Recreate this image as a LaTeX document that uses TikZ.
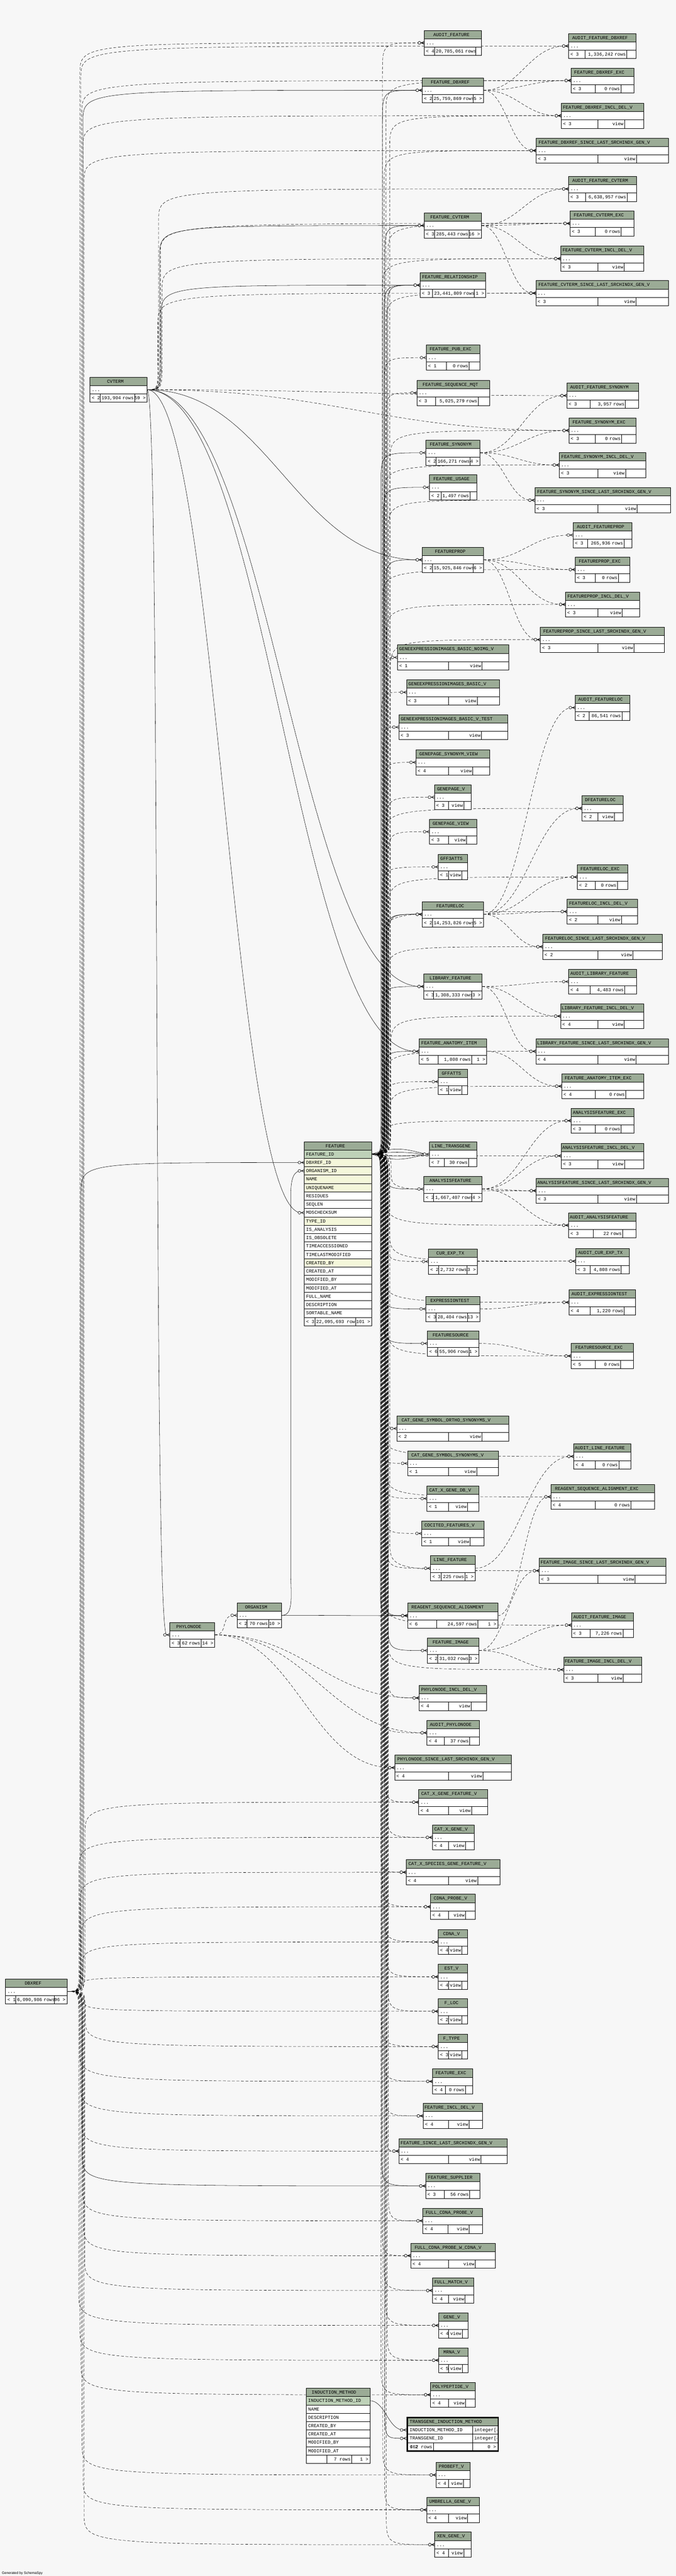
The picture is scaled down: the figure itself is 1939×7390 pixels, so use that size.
\documentclass[tikz,border=0pt]{standalone}
\usepackage{fontspec}
\usetikzlibrary{calc}
\newfontfamily\tabfont{Liberation Mono}
\newfontfamily\genfont{Liberation Sans}
\newcommand\tf{\tabfont\fontsize{13.3}{14}\selectfont}
\newcommand\dtk[1]{\expandafter\detokenize\expandafter{#1}}

\definecolor{bgc}{HTML}{F7F7F7}
\definecolor{hdrc}{HTML}{9BAB96}
\definecolor{keyc}{HTML}{BED1B8}
\definecolor{idxc}{HTML}{F4F7DA}

\pgfdeclarelayer{back}
\pgfdeclarelayer{edges}
\pgfdeclarelayer{marks}
\pgfsetlayers{back,edges,marks,main}

\tikzset{
  txt/.style={anchor=base west,inner sep=0pt,font=\tf},
  tline/.style={line width=1pt},
  conn/.style={line width=0.8pt},
  dsh/.style={dash pattern=on 8pt off 5pt},
  crowfoot/.pic={
    \draw[line width=0.9pt] (-9,0) -- (0,-4) (-9,0) -- (0,0) (-9,0) -- (0,4);
    \draw[line width=0.9pt,fill=bgc] (-14,0) circle (4pt);
  }
}

% collapsed table: title, x1, y1, x2, divider 1, divider 2, footer cells
\newcommand\dbtab[9]{%
  \coordinate (#1-in) at (#2,#3+36);
  \coordinate (#1-out) at (#4,#3+36);
  \fill[hdrc] (#2,#3) rectangle (#4,#3+24);
  \fill[white] (#2,#3+24) rectangle (#4,#3+72);
  \draw[tline] (#2,#3) rectangle (#4,#3+72) (#2,#3+24) -- (#4,#3+24)
    (#2,#3+48) -- (#4,#3+48) (#5,#3+48) -- (#5,#3+72) (#6,#3+48) -- (#6,#3+72);
  \pgfmathsetmacro\hx{(#2+(#6+#4)/2)/2}%
  \pgfmathsetmacro\hw{2*(\hx-#2-3)}%
  \node[txt,anchor=base,text width=\hw pt,align=center] at (\hx,#3+16.5)
    {\mbox{\detokenize{#1}}};
  \node[txt] at (#2+5,#3+40.5) {...};
  \node[txt] at (#2+5,#3+64.5) {#7};
  \pgfmathsetmacro\mw{#6-#5-7}%
  \begin{scope}
    \clip (#5,#3+48) rectangle (#6,#3+72);
    \node[txt,text width=\mw pt,align=right] at (#5+4,#3+64.5) {\mbox{#8}};
  \end{scope}
  \node[txt,anchor=base east] at (#4-4,#3+64.5) {#9};
}
% view: title, x1, y1, x2, count
\newcommand\dbview[5]{%
  \pgfmathsetmacro\vda{(#2+#4)/2-13}%
  \pgfmathsetmacro\vdb{\vda+0.24*(#4-#2)+19}%
  \dbtab{#1}{#2}{#3}{#4}{\vda}{\vdb}{< #5}{view}{}%
}

\newcommand\fkmark[1]{%
  \begin{pgfonlayer}{marks}\pic at (#1) {crowfoot};\end{pgfonlayer}}
% direct connector
\newcommand\fk[3][]{%
  \begin{pgfonlayer}{edges}
  \draw[conn,#1] let \p1=(#2), \p2=($(#3)+(-9,0)$),
    \n1={max(40,abs(\x2-\x1)*0.45)} in
    (\p1) .. controls ({\x1+\n1},{\y1}) and ({\x2-\n1},{\y2}) .. (\p2);
  \end{pgfonlayer}\fkmark{#3}}
% connector along a vertical bundle at x=#4
\newcommand\fkb[4][]{%
  \begin{pgfonlayer}{edges}
  \draw[conn,#1] let \p1=(#2), \p2=($(#3)+(-9,0)$),
    \n1={(\y2>\y1) ? 1 : -1}, \n2={min(abs(\y2-\y1)/2,90)} in
    (\p1) .. controls ({#4pt},{\y1}) .. ({#4pt},{\y1+\n1*\n2})
    -- ({#4pt},{\y2-\n1*\n2}) .. controls ({#4pt},{\y2}) .. (\p2);
  \end{pgfonlayer}\fkmark{#3}}

\begin{document}
\begin{tikzpicture}[x=1pt,y=-1pt]
\useasboundingbox (0,0) rectangle (1939,7390);
\begin{pgfonlayer}{back}
\fill[bgc] (0,0) rectangle (1939,7390);
\end{pgfonlayer}

% left tables
\dbtab{CVTERM}{258}{1082}{422}{287}{386}{< 2}{193,904 rows}{59 >}
\dbtab{ORGANISM}{680}{4598}{808}{709}{771}{< 2}{70 rows}{10 >}
\dbtab{PHYLONODE}{487}{4654}{616}{517}{577}{< 3}{62 rows}{14 >}
\dbtab{DBXREF}{16}{5677}{192}{45}{156}{< 1}{6,090,986 rows}{96 >}

% feature
\coordinate (FEATURE-out) at (1066,3311);
\coordinate (FEATURE-dbx) at (873,3335);
\coordinate (FEATURE-org) at (873,3359);
\coordinate (FEATURE-type) at (873,3479);
\fill[hdrc] (873,3275) rectangle (1066,3299);
\node[txt,anchor=base] at (962,3291.5) {FEATURE};
\foreach \cname/\cfill [count=\i from 0] in {FEATURE_ID/keyc,DBXREF_ID/idxc,
  ORGANISM_ID/idxc,NAME/idxc,UNIQUENAME/idxc,RESIDUES/white,SEQLEN/white,
  MD5CHECKSUM/white,TYPE_ID/idxc,IS_ANALYSIS/white,IS_OBSOLETE/white,
  TIMEACCESSIONED/white,TIMELASTMODIFIED/white,CREATED_BY/idxc,CREATED_AT/white,
  MODIFIED_BY/white,MODIFIED_AT/white,FULL_NAME/white,DESCRIPTION/white,
  SORTABLE_NAME/white}{
  \filldraw[fill=\cfill,tline] (873,3299+24*\i) rectangle (1066,3323+24*\i);
  \node[txt] at (878,3315.5+24*\i) {\dtk\cname};
}
\filldraw[fill=white,tline] (873,3779) rectangle (1066,3803);
\draw[tline] (903,3779) -- (903,3803) (1021,3779) -- (1021,3803);
\node[txt] at (878,3795.5) {< 3};
\begin{scope}
  \clip (903,3779) rectangle (1021,3803);
  \node[txt] at (907,3795.5) {22,095,693 rows};
\end{scope}
\node[txt,anchor=base east] at (1062,3795.5) {101 >};
\draw[tline] (873,3275) rectangle (1066,3803);

% induction method
\coordinate (INDUCTION_METHOD-out) at (1061,6887);
\fill[hdrc] (879,6851) rectangle (1061,6875);
\node[txt,anchor=base] at (958,6867.5) {INDUCTION\_METHOD};
\foreach \cname/\cfill [count=\i from 0] in {INDUCTION_METHOD_ID/keyc,NAME/white,
  DESCRIPTION/white,CREATED_BY/white,CREATED_AT/white,MODIFIED_BY/white,
  MODIFIED_AT/white}{
  \filldraw[fill=\cfill,tline] (879,6875+24*\i) rectangle (1061,6899+24*\i);
  \node[txt] at (884,6891.5+24*\i) {\dtk\cname};
}
\filldraw[fill=white,tline] (879,7043) rectangle (1061,7067);
\draw[tline] (937,7043) -- (937,7067) (1009,7043) -- (1009,7067);
\node[txt,anchor=base east] at (1006,7059.5) {7 rows};
\node[txt,anchor=base east] at (1057,7059.5) {1 >};
\draw[tline] (879,6851) rectangle (1061,7067);

% transgene induction method
\coordinate (TRANSGENE_INDUCTION_METHOD-in1) at (1166,6971);
\coordinate (TRANSGENE_INDUCTION_METHOD-in2) at (1166,6995);
\fill[hdrc] (1168,6935) rectangle (1429,6959);
\fill[white] (1168,6959) rectangle (1429,7031);
\draw[tline] (1168,6959) -- (1429,6959) (1168,6983) -- (1429,6983)
  (1168,7007) -- (1429,7007) (1356,6959) -- (1356,7031) (1243,7007) -- (1243,7031);
\node[txt] at (1175,6951.5) {TRANSGENE\_INDUCTION\_METHOD};
\node[txt] at (1175,6975.5) {INDUCTION\_METHOD\_ID};
\node[txt] at (1175,6999.5) {TRANSGENE\_ID};
\begin{scope}
  \clip (1356,6959) rectangle (1426,7007);
  \node[txt] at (1360,6975.5) {integer[4]};
  \node[txt] at (1360,6999.5) {integer[4]};
\end{scope}
\node[txt] at (1175,7023.5) {< 2};
\node[txt,anchor=base east] at (1240,7023.5) {362 rows};
\node[txt,anchor=base east] at (1423,7023.5) {0 >};
\draw[line width=4pt] (1168,6935) rectangle (1429,7031);

% middle column
\dbtab{AUDIT_FEATURE}{1217}{87}{1381}{1246}{1365}{< 4}{20,785,061 rows}{}
\dbtab{FEATURE_DBXREF}{1211}{223}{1387}{1240}{1357}{< 2}{25,759,869 rows}{5 >}
\dbtab{FEATURE_CVTERM}{1217}{611}{1381}{1247}{1345}{< 3}{285,443 rows}{16 >}
\dbtab{FEATURE_RELATIONSHIP}{1205}{782}{1393}{1241}{1360}{< 3}{23,441,809 rows}{1 >}
\dbtab{FEATURE_PUB_EXC}{1223}{990}{1377}{1280}{1346}{< 1}{0 rows}{}
\dbtab{FEATURE_SEQUENCE_MQT}{1196}{1091}{1404}{1249}{1372}{< 3}{5,025,279 rows}{}
\dbtab{FEATURE_SYNONYM}{1222}{1263}{1377}{1251}{1349}{< 2}{166,271 rows}{4 >}
\dbtab{FEATURE_USAGE}{1232}{1362}{1368}{1265}{1348}{< 2}{1,497 rows}{}
\dbtab{FEATUREPROP}{1211}{1570}{1387}{1240}{1357}{< 2}{15,925,846 rows}{6 >}
\dbview{GENEEXPRESSIONIMAGES_BASIC_NOIMG_V}{1140}{1850}{1460}{1}
\dbview{GENEEXPRESSIONIMAGES_BASIC_V}{1166}{1950}{1432}{3}
\dbview{GENEEXPRESSIONIMAGES_BASIC_V_TEST}{1144}{2050}{1456}{3}
\dbview{GENEPAGE_SYNONYM_VIEW}{1193}{2151}{1405}{4}
\dbview{GENEPAGE_V}{1246}{2251}{1352}{3}
\dbview{GENEPAGE_VIEW}{1232}{2350}{1368}{3}
\dbview{GFF3ATTS}{1257}{2451}{1341}{1}
\dbtab{FEATURELOC}{1211}{2587}{1387}{1240}{1357}{< 2}{14,253,826 rows}{5 >}
\dbtab{LIBRARY_FEATURE}{1216}{2794}{1383}{1244}{1353}{< 3}{1,308,333 rows}{3 >}
\dbtab{FEATURE_ANATOMY_ITEM}{1202}{2980}{1396}{1257}{1353}{< 5}{1,808 rows}{1 >}
\dbview{GFFATTS}{1257}{3067}{1341}{1}
\dbtab{LINE_TRANSGENE}{1232}{3275}{1368}{1275}{1344}{< 7}{30 rows}{}
\dbtab{ANALYSISFEATURE}{1216}{3375}{1383}{1244}{1353}{< 2}{1,667,407 rows}{4 >}
\dbtab{CUR_EXP_TX}{1229}{3583}{1369}{1259}{1340}{< 2}{2,732 rows}{3 >}
\dbtab{EXPRESSIONTEST}{1222}{3719}{1377}{1251}{1341}{< 3}{28,404 rows}{13 >}
\dbtab{FEATURESOURCE}{1226}{3818}{1374}{1256}{1345}{< 6}{55,906 rows}{1 >}
\dbview{CAT_GENE_SYMBOL_ORTHO_SYNONYMS_V}{1138}{4062}{1460}{2}
\dbview{CAT_GENE_SYMBOL_SYNONYMS_V}{1169}{4162}{1429}{1}
\dbview{CAT_X_GENE_DB_V}{1225}{4263}{1374}{1}
\dbview{COCITED_FEATURES_V}{1210}{4363}{1389}{1}
\dbtab{LINE_FEATURE}{1235}{4463}{1363}{1265}{1334}{< 3}{225 rows}{1 >}
\dbtab{REAGENT_SEQUENCE_ALIGNMENT}{1169}{4599}{1428}{1253}{1371}{< 6}{24,597 rows}{1 >}
\dbtab{FEATURE_IMAGE}{1226}{4699}{1374}{1256}{1345}{< 2}{31,032 rows}{3 >}
\dbview{PHYLONODE_INCL_DEL_V}{1202}{4835}{1396}{4}
\dbtab{AUDIT_PHYLONODE}{1225}{4935}{1375}{1275}{1347}{< 4}{37 rows}{}
\dbview{PHYLONODE_SINCE_LAST_SRCHINDX_GEN_V}{1132}{5035}{1467}{4}
\dbview{CAT_X_GENE_FEATURE_V}{1201}{5134}{1398}{4}
\dbview{CAT_X_GENE_V}{1240}{5235}{1360}{4}
\dbview{CAT_X_SPECIES_GENE_FEATURE_V}{1165}{5335}{1434}{4}
\dbview{CDNA_PROBE_V}{1235}{5434}{1363}{4}
\dbview{CDNA_V}{1257}{5535}{1341}{4}
\dbview{EST_V}{1257}{5635}{1341}{4}
\dbview{F_LOC}{1257}{5734}{1341}{2}
\dbview{F_TYPE}{1257}{5835}{1341}{3}
\dbtab{FEATURE_EXC}{1241}{5935}{1356}{1277}{1335}{< 4}{0 rows}{}
\dbview{FEATURE_INCL_DEL_V}{1214}{6034}{1384}{4}
\dbview{FEATURE_SINCE_LAST_SRCHINDX_GEN_V}{1144}{6135}{1455}{4}
\dbtab{FEATURE_SUPPLIER}{1221}{6235}{1377}{1274}{1347}{< 3}{56 rows}{}
\dbview{FULL_CDNA_PROBE_V}{1213}{6335}{1384}{4}
\dbview{FULL_CDNA_PROBE_W_CDNA_V}{1178}{6435}{1421}{4}
\dbview{FULL_MATCH_V}{1241}{6535}{1359}{4}
\dbview{GENE_V}{1258}{6635}{1342}{4}
\dbview{MRNA_V}{1258}{6735}{1342}{5}
\dbview{POLYPEPTIDE_V}{1235}{6834}{1363}{4}
\dbview{PROBEFT_V}{1251}{7064}{1348}{4}
\dbview{UMBRELLA_GENE_V}{1224}{7164}{1375}{4}
\dbview{XEN_GENE_V}{1247}{7264}{1351}{4}

% right column
\dbtab{AUDIT_FEATURE_DBXREF}{1631}{96}{1825}{1678}{1798}{< 3}{1,336,242 rows}{}
\dbtab{FEATURE_DBXREF_EXC}{1638}{195}{1819}{1707}{1781}{< 3}{0 rows}{}
\dbview{FEATURE_DBXREF_INCL_DEL_V}{1610}{296}{1847}{3}
\dbview{FEATURE_DBXREF_SINCE_LAST_SRCHINDX_GEN_V}{1538}{396}{1918}{3}
\dbtab{AUDIT_FEATURE_CVTERM}{1631}{506}{1826}{1680}{1799}{< 3}{6,638,957 rows}{}
\dbtab{FEATURE_CVTERM_EXC}{1635}{605}{1819}{1707}{1782}{< 3}{0 rows}{}
\dbview{FEATURE_CVTERM_INCL_DEL_V}{1608}{706}{1847}{3}
\dbview{FEATURE_CVTERM_SINCE_LAST_SRCHINDX_GEN_V}{1537}{805}{1918}{3}
\dbtab{AUDIT_FEATURE_SYNONYM}{1626}{1099}{1831}{1693}{1794}{< 3}{3,957 rows}{}
\dbtab{FEATURE_SYNONYM_EXC}{1632}{1199}{1825}{1708}{1783}{< 3}{0 rows}{}
\dbview{FEATURE_SYNONYM_INCL_DEL_V}{1604}{1298}{1853}{3}
\dbview{FEATURE_SYNONYM_SINCE_LAST_SRCHINDX_GEN_V}{1534}{1399}{1923}{3}
\dbtab{AUDIT_FEATUREPROP}{1644}{1499}{1813}{1686}{1790}{< 3}{265,936 rows}{}
\dbtab{FEATUREPROP_EXC}{1650}{1598}{1807}{1707}{1774}{< 3}{0 rows}{}
\dbview{FEATUREPROP_INCL_DEL_V}{1622}{1698}{1834}{3}
\dbview{FEATUREPROP_SINCE_LAST_SRCHINDX_GEN_V}{1550}{1799}{1905}{3}
\dbtab{AUDIT_FEATURELOC}{1650}{1994}{1807}{1690}{1784}{< 2}{86,541 rows}{}
\dbview{DFEATURELOC}{1669}{2283}{1787}{2}
\dbtab{FEATURELOC_EXC}{1656}{2480}{1801}{1708}{1771}{< 2}{0 rows}{}
\dbview{FEATURELOC_INCL_DEL_V}{1627}{2579}{1829}{2}
\dbview{FEATURELOC_SINCE_LAST_SRCHINDX_GEN_V}{1557}{2680}{1899}{2}
\dbtab{AUDIT_LIBRARY_FEATURE}{1631}{2780}{1826}{1693}{1792}{< 4}{4,483 rows}{}
\dbview{LIBRARY_FEATURE_INCL_DEL_V}{1608}{2879}{1847}{4}
\dbview{LIBRARY_FEATURE_SINCE_LAST_SRCHINDX_GEN_V}{1537}{2980}{1918}{4}
\dbtab{FEATURE_ANATOMY_ITEM_EXC}{1611}{3080}{1846}{1708}{1795}{< 4}{0 rows}{}
\dbtab{ANALYSISFEATURE_EXC}{1638}{3179}{1819}{1708}{1782}{< 3}{0 rows}{}
\dbview{ANALYSISFEATURE_INCL_DEL_V}{1610}{3280}{1847}{3}
\dbview{ANALYSISFEATURE_SINCE_LAST_SRCHINDX_GEN_V}{1538}{3380}{1918}{3}
\dbtab{AUDIT_ANALYSISFEATURE}{1631}{3479}{1825}{1702}{1786}{< 3}{22 rows}{}
\dbtab{AUDIT_CUR_EXP_TX}{1651}{3582}{1805}{1693}{1782}{< 3}{4,808 rows}{}
\dbtab{AUDIT_EXPRESSIONTEST}{1632}{3700}{1823}{1693}{1791}{< 4}{1,220 rows}{}
\dbtab{FEATURESOURCE_EXC}{1638}{3854}{1817}{1707}{1780}{< 5}{0 rows}{}
\dbtab{AUDIT_LINE_FEATURE}{1646}{4142}{1810}{1707}{1775}{< 4}{0 rows}{}
\dbtab{REAGENT_SEQUENCE_ALIGNMENT_EXC}{1580}{4258}{1877}{1708}{1810}{< 4}{0 rows}{}
\dbview{FEATURE_IMAGE_SINCE_LAST_SRCHINDX_GEN_V}{1547}{4470}{1910}{3}
\dbtab{AUDIT_FEATURE_IMAGE}{1639}{4626}{1817}{1693}{1787}{< 3}{7,226 rows}{}
\dbview{FEATURE_IMAGE_INCL_DEL_V}{1617}{4754}{1840}{3}

% connectors from feature
\foreach \t [count=\i] in {FEATURE_DBXREF,FEATURE_CVTERM,FEATURE_RELATIONSHIP,
  FEATURE_SYNONYM,FEATURE_USAGE,FEATUREPROP,FEATURELOC,LIBRARY_FEATURE,
  FEATURE_ANATOMY_ITEM,ANALYSISFEATURE,EXPRESSIONTEST,FEATURESOURCE,
  REAGENT_SEQUENCE_ALIGNMENT,FEATURE_IMAGE,FEATURE_SUPPLIER,FEATURE_RELATIONSHIP,
  FEATURELOC,REAGENT_SEQUENCE_ALIGNMENT}{
  \pgfmathtruncatemacro\bx{1090+mod(7*\i,25)}
  \fkb{FEATURE-out}{\t-in}{\bx}
}
\fkb{FEATURE-out}{TRANSGENE_INDUCTION_METHOD-in2}{1104}
\foreach \k in {-24,-9,9,24}{
  \begin{pgfonlayer}{edges}
  \draw[conn] (FEATURE-out) .. controls +(70,\k) and +(-60,0.6*\k) .. ($(LINE_TRANSGENE-in)+(-9,0)$);
  \end{pgfonlayer}
}
\fkmark{LINE_TRANSGENE-in}
\foreach \t [count=\i] in {AUDIT_FEATURE,FEATURE_PUB_EXC,FEATURE_SEQUENCE_MQT,
  GENEEXPRESSIONIMAGES_BASIC_NOIMG_V,GENEEXPRESSIONIMAGES_BASIC_V,
  GENEEXPRESSIONIMAGES_BASIC_V_TEST,GENEPAGE_SYNONYM_VIEW,GENEPAGE_V,GENEPAGE_VIEW,
  GFF3ATTS,GFFATTS,CUR_EXP_TX,CAT_GENE_SYMBOL_ORTHO_SYNONYMS_V,
  CAT_GENE_SYMBOL_SYNONYMS_V,CAT_X_GENE_DB_V,COCITED_FEATURES_V,LINE_FEATURE,
  PHYLONODE_INCL_DEL_V,AUDIT_PHYLONODE,PHYLONODE_SINCE_LAST_SRCHINDX_GEN_V,
  CAT_X_GENE_FEATURE_V,CAT_X_GENE_V,CAT_X_SPECIES_GENE_FEATURE_V,CDNA_PROBE_V,
  CDNA_V,EST_V,F_LOC,F_TYPE,FEATURE_EXC,FEATURE_INCL_DEL_V,
  FEATURE_SINCE_LAST_SRCHINDX_GEN_V,FULL_CDNA_PROBE_V,FULL_CDNA_PROBE_W_CDNA_V,
  FULL_MATCH_V,GENE_V,MRNA_V,POLYPEPTIDE_V,PROBEFT_V,UMBRELLA_GENE_V,XEN_GENE_V}{
  \pgfmathtruncatemacro\bx{1092+mod(5*\i,23)}
  \fkb[dsh]{FEATURE-out}{\t-in}{\bx}
}
\foreach \t [count=\i] in {FEATURE_DBXREF_EXC,FEATURE_DBXREF_INCL_DEL_V,
  FEATURE_DBXREF_SINCE_LAST_SRCHINDX_GEN_V,FEATURE_CVTERM_EXC,
  FEATURE_CVTERM_INCL_DEL_V,FEATURE_CVTERM_SINCE_LAST_SRCHINDX_GEN_V,
  FEATURE_SYNONYM_EXC,FEATURE_SYNONYM_INCL_DEL_V,
  FEATURE_SYNONYM_SINCE_LAST_SRCHINDX_GEN_V,FEATUREPROP_EXC,FEATUREPROP_INCL_DEL_V,
  FEATUREPROP_SINCE_LAST_SRCHINDX_GEN_V,DFEATURELOC,FEATURELOC_EXC,
  FEATURELOC_INCL_DEL_V,FEATURELOC_SINCE_LAST_SRCHINDX_GEN_V,
  LIBRARY_FEATURE_INCL_DEL_V,LIBRARY_FEATURE_SINCE_LAST_SRCHINDX_GEN_V,
  FEATURE_ANATOMY_ITEM_EXC,ANALYSISFEATURE_EXC,ANALYSISFEATURE_INCL_DEL_V,
  ANALYSISFEATURE_SINCE_LAST_SRCHINDX_GEN_V,AUDIT_ANALYSISFEATURE,AUDIT_CUR_EXP_TX,
  AUDIT_EXPRESSIONTEST,FEATURESOURCE_EXC,AUDIT_LINE_FEATURE,
  REAGENT_SEQUENCE_ALIGNMENT_EXC,FEATURE_IMAGE_SINCE_LAST_SRCHINDX_GEN_V,
  AUDIT_FEATURE_IMAGE,FEATURE_IMAGE_INCL_DEL_V}{
  \pgfmathtruncatemacro\bx{1096+mod(11*\i,27)}
  \fkb[dsh]{FEATURE-out}{\t-in}{\bx}
}

% connectors between middle and right column
\foreach \src/\t in {FEATURE_DBXREF/AUDIT_FEATURE_DBXREF,FEATURE_DBXREF/FEATURE_DBXREF_EXC,
  FEATURE_DBXREF/FEATURE_DBXREF_INCL_DEL_V,
  FEATURE_DBXREF/FEATURE_DBXREF_SINCE_LAST_SRCHINDX_GEN_V,
  FEATURE_CVTERM/AUDIT_FEATURE_CVTERM,FEATURE_CVTERM/FEATURE_CVTERM_EXC,
  FEATURE_CVTERM/FEATURE_CVTERM_INCL_DEL_V,
  FEATURE_CVTERM/FEATURE_CVTERM_SINCE_LAST_SRCHINDX_GEN_V,
  FEATURE_SYNONYM/AUDIT_FEATURE_SYNONYM,FEATURE_SYNONYM/FEATURE_SYNONYM_EXC,
  FEATURE_SYNONYM/FEATURE_SYNONYM_INCL_DEL_V,
  FEATURE_SYNONYM/FEATURE_SYNONYM_SINCE_LAST_SRCHINDX_GEN_V,
  FEATUREPROP/AUDIT_FEATUREPROP,FEATUREPROP/FEATUREPROP_EXC,
  FEATUREPROP/FEATUREPROP_INCL_DEL_V,FEATUREPROP/FEATUREPROP_SINCE_LAST_SRCHINDX_GEN_V,
  FEATURELOC/AUDIT_FEATURELOC,FEATURELOC/DFEATURELOC,FEATURELOC/FEATURELOC_EXC,
  FEATURELOC/FEATURELOC_INCL_DEL_V,FEATURELOC/FEATURELOC_SINCE_LAST_SRCHINDX_GEN_V,
  LIBRARY_FEATURE/AUDIT_LIBRARY_FEATURE,LIBRARY_FEATURE/LIBRARY_FEATURE_INCL_DEL_V,
  LIBRARY_FEATURE/LIBRARY_FEATURE_SINCE_LAST_SRCHINDX_GEN_V,
  FEATURE_ANATOMY_ITEM/FEATURE_ANATOMY_ITEM_EXC,
  ANALYSISFEATURE/ANALYSISFEATURE_EXC,ANALYSISFEATURE/ANALYSISFEATURE_INCL_DEL_V,
  ANALYSISFEATURE/ANALYSISFEATURE_SINCE_LAST_SRCHINDX_GEN_V,
  ANALYSISFEATURE/AUDIT_ANALYSISFEATURE,CUR_EXP_TX/AUDIT_CUR_EXP_TX,
  EXPRESSIONTEST/AUDIT_EXPRESSIONTEST,FEATURESOURCE/FEATURESOURCE_EXC,
  LINE_FEATURE/AUDIT_LINE_FEATURE,
  REAGENT_SEQUENCE_ALIGNMENT/REAGENT_SEQUENCE_ALIGNMENT_EXC,
  FEATURE_IMAGE/FEATURE_IMAGE_SINCE_LAST_SRCHINDX_GEN_V,
  FEATURE_IMAGE/AUDIT_FEATURE_IMAGE,FEATURE_IMAGE/FEATURE_IMAGE_INCL_DEL_V}{
  \fk[dsh]{\src-out}{\t-in}
}

% connectors from dbxref
\fkb{DBXREF-out}{FEATURE_DBXREF-in}{238}
\fkb{DBXREF-out}{FEATURE-dbx}{232}
\fkb{DBXREF-out}{FEATURE_SUPPLIER-in}{236}
\foreach \t [count=\i] in {AUDIT_FEATURE,AUDIT_FEATURE_DBXREF,FEATURE_DBXREF_EXC,
  FEATURE_DBXREF_INCL_DEL_V,FEATURE_DBXREF_SINCE_LAST_SRCHINDX_GEN_V,
  CAT_X_GENE_FEATURE_V,CAT_X_GENE_V,CAT_X_SPECIES_GENE_FEATURE_V,CDNA_PROBE_V,
  CDNA_V,EST_V,F_LOC,F_TYPE,FEATURE_EXC,FEATURE_INCL_DEL_V,
  FEATURE_SINCE_LAST_SRCHINDX_GEN_V,FULL_CDNA_PROBE_V,FULL_CDNA_PROBE_W_CDNA_V,
  FULL_MATCH_V,GENE_V,MRNA_V,POLYPEPTIDE_V,PROBEFT_V,UMBRELLA_GENE_V,XEN_GENE_V}{
  \pgfmathtruncatemacro\bx{226+mod(3*\i,20)}
  \fkb[dsh]{DBXREF-out}{\t-in}{\bx}
}

% connectors from cvterm
\fkb{CVTERM-out}{FEATURE_CVTERM-in}{458}
\fkb{CVTERM-out}{FEATURE_RELATIONSHIP-in}{462}
\foreach \t [count=\i] in {AUDIT_FEATURE_CVTERM,FEATURE_CVTERM_EXC,
  FEATURE_CVTERM_INCL_DEL_V,FEATURE_CVTERM_SINCE_LAST_SRCHINDX_GEN_V}{
  \pgfmathtruncatemacro\bx{450+mod(5*\i,17)}
  \fkb[dsh]{CVTERM-out}{\t-in}{\bx}
}
\foreach \t in {FEATUREPROP-in,FEATURE-type,LIBRARY_FEATURE-in,
  FEATURE_ANATOMY_ITEM-in,PHYLONODE-in}{
  \fk{CVTERM-out}{\t}
}
\fk[dsh]{CVTERM-out}{AUDIT_FEATURE_SYNONYM-in}
\fk[dsh]{CVTERM-out}{FEATURE_SYNONYM_EXC-in}

% organism, phylonode, induction method
\fk[dsh]{PHYLONODE-out}{ORGANISM-in}
\foreach \t in {PHYLONODE_INCL_DEL_V,AUDIT_PHYLONODE,PHYLONODE_SINCE_LAST_SRCHINDX_GEN_V}{
  \fk[dsh]{PHYLONODE-out}{\t-in}
}
\fk{ORGANISM-out}{REAGENT_SEQUENCE_ALIGNMENT-in}
\begin{pgfonlayer}{edges}
\draw[conn] (ORGANISM-out) .. controls (840,4634) and (836,4590) .. (834,4520)
  -- (834,3430) .. controls (834,3375) and (845,3359) .. ($(FEATURE-org)+(-9,0)$);
\end{pgfonlayer}
\fkmark{FEATURE-org}
\fk{INDUCTION_METHOD-out}{TRANSGENE_INDUCTION_METHOD-in1}

\node[anchor=base west,inner sep=0pt,font=\genfont\fontsize{10}{12}\selectfont]
  (gen) at (5,7384) {Generated by SchemaSpy};
\end{tikzpicture}
\end{document}
